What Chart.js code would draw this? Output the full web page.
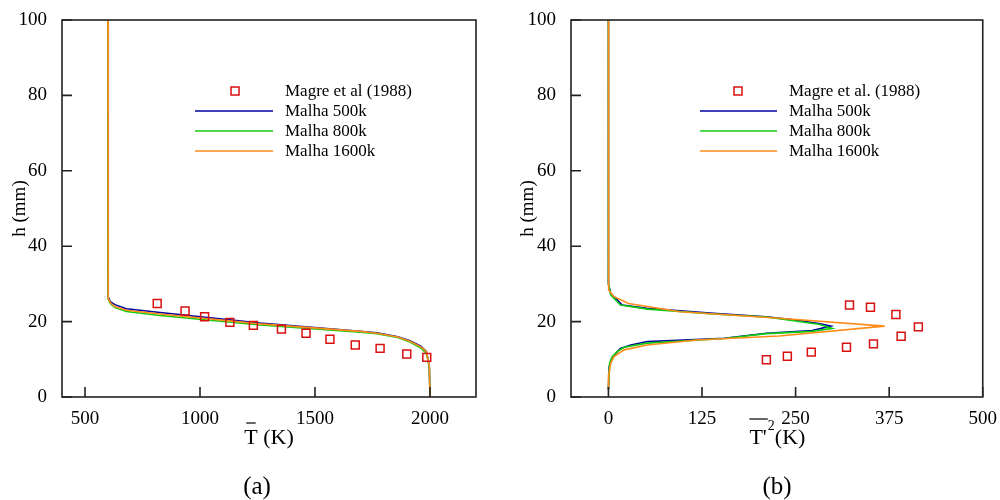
<!DOCTYPE html>
<html>
<head>
<meta charset="utf-8">
<script src="https://cdn.jsdelivr.net/npm/chart.js@4.4.0/dist/chart.umd.min.js"></script>
<style>
body{margin:0;background:#fff;}
#wrap{position:relative;width:1000px;height:500px;}
canvas{position:absolute;top:0;}
</style>
</head>
<body>
<div id="wrap">
<canvas id="chart1" width="500" height="500" style="left:0"></canvas>
<canvas id="chart2" width="500" height="500" style="left:500px"></canvas>
</div>
<script>
// ---- data (a): mean temperature ----
var magreT = [814, 935, 1020, 1130, 1232, 1354, 1461, 1565, 1675, 1783, 1899, 1986];
var magreH = [24.8, 22.8, 21.3, 19.8, 19.0, 18.0, 16.9, 15.3, 13.8, 12.9, 11.4, 10.5];
var tLine = [600, 600, 602, 610, 630, 680, 826, 1261, 1696, 1768, 1860, 1913, 1960, 1985, 1997, 2000];
var h500 = [100, 29, 26.5, 25.3, 24.5, 23.4, 22.4, 19.6, 17.4, 17.0, 16.0, 14.9, 13.5, 12.0, 8, 0];
var h800 = [100, 29, 26.0, 24.8, 23.7, 22.7, 21.6, 19.1, 17.2, 16.8, 15.8, 14.6, 13.0, 11.5, 8, 0];
var h1600 = [100, 29, 26.2, 25.0, 24.0, 23.0, 22.0, 19.4, 17.4, 16.9, 15.9, 14.8, 13.3, 12.0, 8, 0];
var xTicksA = [500, 1000, 1500, 2000];

// ---- data (b): temperature variance ----
var magreVar = [322, 350, 384, 414, 391, 354, 318, 271, 239, 211];
var magreHb = [24.4, 23.8, 21.9, 18.6, 16.1, 14.1, 13.2, 11.9, 10.8, 9.9];
var var500 = [0, 0, 3, 18.5, 51.7, 140, 211, 250, 281, 297, 272, 211, 155, 52, 30, 16, 10, 3.5, 1, 0];
var hv500 = [100, 30, 27.5, 24.4, 23.5, 22.2, 21.3, 20.4, 19.5, 18.8, 17.6, 16.9, 15.6, 14.7, 13.8, 12.9, 11.6, 9.8, 8, 2];
var var800 = [0, 0, 3, 16, 52, 140, 211, 281, 299, 272, 211, 155, 52, 21, 12, 5, 1.5, 0];
var hv800 = [100, 30, 27.1, 24.4, 23.3, 22.0, 21.2, 19.3, 18.2, 17.4, 16.8, 15.5, 14.3, 13.2, 12.1, 10.7, 8.9, 2];
var var1600 = [0, 0, 0.5, 7.4, 27, 96, 228, 369, 228, 118, 52, 21, 7.4, 3, 0.5, 0];
var hv1600 = [100, 31, 28.4, 26.6, 24.8, 22.6, 20.9, 18.8, 16.2, 15.1, 13.8, 12.5, 10.7, 8.9, 6, 2];
var xTicksB = [0, 125, 250, 375, 500];
var yTicks = [0, 20, 40, 60, 80, 100];

var FONT = 'Liberation Serif';
var BLUE = '#0000a0', GREEN = '#11cc11', ORANGE = '#ff8c1a', RED = '#d81010';

function pts(xs, ys) {
  return xs.map(function (v, i) { return {x: v, y: ys[i]}; });
}

function datasets(labels, mx, my, series) {
  var cols = [BLUE, GREEN, ORANGE];
  var ds = [{
    label: labels[0], data: pts(mx, my), showLine: false, order: 0,
    pointStyle: 'rect', pointRadius: 5.6, borderColor: RED, borderWidth: 1.5,
    backgroundColor: 'rgba(0,0,0,0)', pointHoverRadius: 5.6
  }];
  series.forEach(function (s, i) {
    ds.push({
      label: labels[i + 1], data: pts(s[0], s[1]), showLine: true, order: 3 - i,
      pointRadius: 0, borderColor: cols[i], borderWidth: 1.6, tension: 0, fill: false
    });
  });
  return ds;
}

// frame with inward ticks, legend, x title and panel label
var framePlugin = {
  id: 'frame',
  afterDraw: function (chart, args, o) {
    var ctx = chart.ctx, a = chart.chartArea;
    var xs = chart.scales.x, ys = chart.scales.y;
    ctx.save();
    ctx.textAlign = 'left';
    ctx.strokeStyle = '#222';
    ctx.lineWidth = 1.6;
    ctx.strokeRect(a.left, a.top, a.right - a.left, a.bottom - a.top);
    ctx.beginPath();
    xs.ticks.forEach(function (t) {
      var px = xs.getPixelForValue(t.value);
      ctx.moveTo(px, a.bottom); ctx.lineTo(px, a.bottom - 10);
    });
    ys.ticks.forEach(function (t) {
      var py = ys.getPixelForValue(t.value);
      ctx.moveTo(a.left, py); ctx.lineTo(a.left + 10, py);
    });
    ctx.stroke();

    // legend
    ctx.font = '17px "' + FONT + '"';
    ctx.textBaseline = 'middle';
    ctx.fillStyle = '#000';
    chart.data.datasets.forEach(function (d, i) {
      var y = o.legY + i * 20;
      if (i === 0) {
        ctx.strokeStyle = d.borderColor; ctx.lineWidth = 1.5;
        ctx.strokeRect(a.left + o.markX - 4, y - 4, 8, 8);
      } else {
        ctx.strokeStyle = d.borderColor; ctx.lineWidth = 1.6;
        ctx.beginPath();
        ctx.moveTo(a.left + o.lineX0, y); ctx.lineTo(a.left + o.lineX1, y);
        ctx.stroke();
      }
      ctx.fillText(d.label, a.left + o.textX, y + 1);
    });

    // x axis title
    var cx = (a.left + a.right) / 2, base = 444;
    ctx.font = '22px "' + FONT + '"';
    ctx.textBaseline = 'alphabetic';
    ctx.strokeStyle = '#000'; ctx.lineWidth = 1.2;
    if (o.kind === 'a') {
      var wT = ctx.measureText('T').width, wAll = ctx.measureText('T (K)').width;
      var x0 = cx - wAll / 2;
      ctx.fillText('T (K)', x0, base);
      ctx.beginPath(); ctx.moveTo(x0 + 2, base - 21); ctx.lineTo(x0 + wT - 2, base - 21); ctx.stroke();
    } else {
      var w1 = ctx.measureText("T'").width;
      ctx.font = '14px "' + FONT + '"';
      var w2 = ctx.measureText('2').width;
      ctx.font = '22px "' + FONT + '"';
      var w3 = ctx.measureText('(K)').width;
      var x1 = cx - (w1 + w2 + w3) / 2;
      ctx.fillText("T'", x1, base);
      ctx.font = '14px "' + FONT + '"';
      ctx.fillText('2', x1 + w1 + 1, base - 14);
      ctx.font = '22px "' + FONT + '"';
      ctx.fillText('(K)', x1 + w1 + w2 + 1, base);
      ctx.beginPath(); ctx.moveTo(x1, base - 25); ctx.lineTo(x1 + w1 + 1, base - 25); ctx.stroke();
    }
    // panel label
    ctx.font = '25px "' + FONT + '"';
    ctx.textAlign = 'center';
    ctx.fillText(o.panel, o.panelX, 494);
    ctx.restore();
  }
};

function makeOptions(xmin, xmax, xticks, padL, padR, yWidth, frameOpts) {
  return {
    responsive: false, animation: false, devicePixelRatio: 1,
    layout: {padding: {left: padL, right: padR, top: 20, bottom: 0}},
    plugins: {legend: {display: false}, tooltip: {enabled: false}, frame: frameOpts},
    scales: {
      x: {
        type: 'linear', min: xmin, max: xmax,
        afterBuildTicks: function (s) { s.ticks = xticks.map(function (v) { return {value: v}; }); },
        grid: {display: false}, border: {display: false},
        ticks: {color: '#000', font: {family: FONT, size: 19}, padding: 3, maxRotation: 0,
          callback: function (v) { return String(v); }},
        afterFit: function (s) { s.height = 103; }
      },
      y: {
        type: 'linear', min: 0, max: 100,
        afterBuildTicks: function (s) { s.ticks = yTicks.map(function (v) { return {value: v}; }); },
        grid: {display: false}, border: {display: false},
        ticks: {color: '#000', font: {family: FONT, size: 19}, padding: 7,
          callback: function (v) { return String(v); }},
        title: {display: true, text: 'h (mm)', color: '#000', font: {family: FONT, size: 19}, padding: {top: 0, bottom: 4}},
        afterFit: function (s) { s.width = yWidth; }
      }
    }
  };
}

var config = {
  type: 'scatter',
  data: {
    datasets: datasets(['Magre et al (1988)', 'Malha 500k', 'Malha 800k', 'Malha 1600k'], magreT, magreH,
      [[tLine, h500], [tLine, h800], [tLine, h1600]])
  },
  options: makeOptions(400, 2200, xTicksA, 9, 24, 53,
    {legY: 91, markX: 173, lineX0: 133, lineX1: 211, textX: 223, kind: 'a', panel: '(a)', panelX: 257}),
  plugins: [framePlugin]
};

var config2 = {
  type: 'scatter',
  data: {
    datasets: datasets(['Magre et al. (1988)', 'Malha 500k', 'Malha 800k', 'Malha 1600k'], magreVar, magreHb,
      [[var500, hv500], [var800, hv800], [var1600, hv1600]])
  },
  options: makeOptions(-50, 500, xTicksB, 17, 16, 54,
    {legY: 91, markX: 167, lineX0: 129, lineX1: 206, textX: 218, kind: 'b', panel: '(b)', panelX: 277}),
  plugins: [framePlugin]
};

var myChart = new Chart(document.getElementById('chart1'), config);
var myChart2 = new Chart(document.getElementById('chart2'), config2);
</script>
</body>
</html>
